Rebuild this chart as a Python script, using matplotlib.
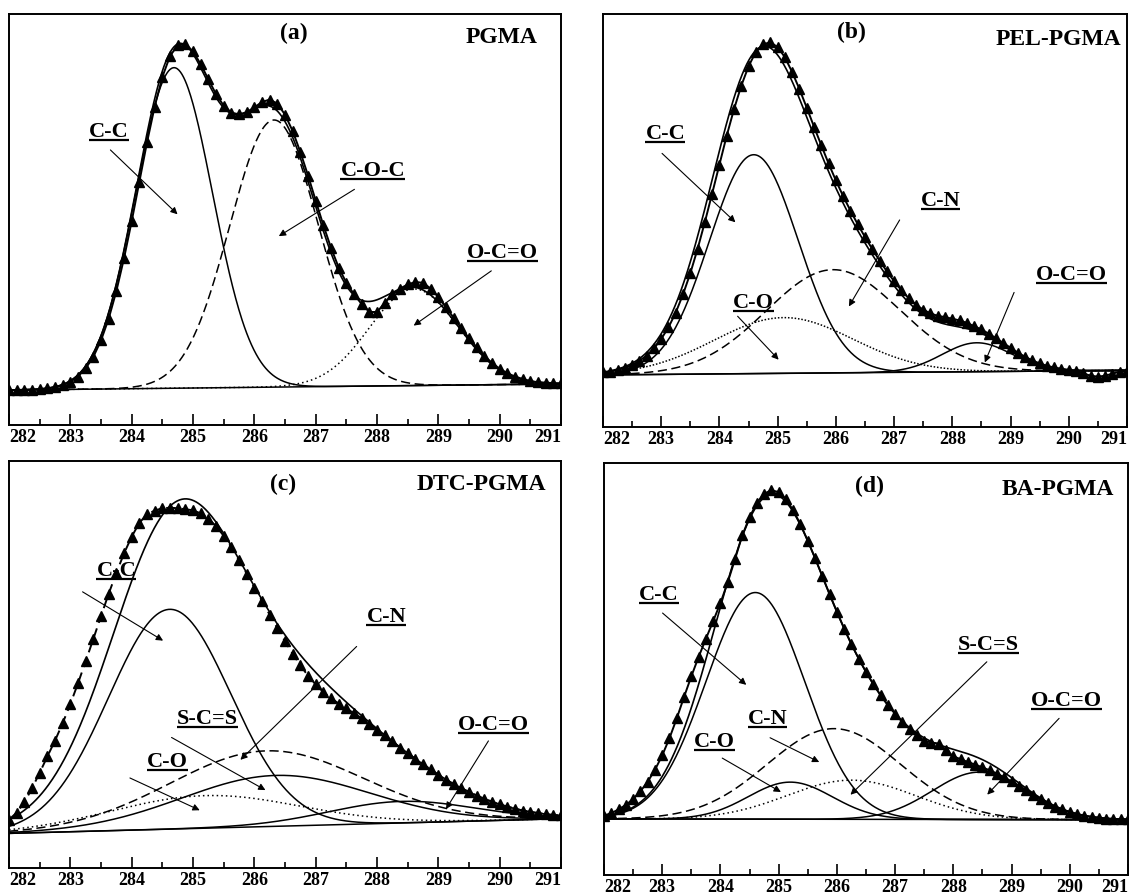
import numpy as np
import matplotlib.pyplot as plt

plt.rcParams['font.family'] = ['Liberation Serif', 'DejaVu Serif']
plt.rcParams['font.weight'] = 'bold'

# binding energy (eV) of the measured points, 0.125 eV step
binding = np.linspace(282.0, 291.0, 73)

# C1s fit components: centre (eV), height above background, FWHM (eV)
pgma_names = ['C-C', 'C-O-C', 'O-C=O']
pgma_center = [284.69, 286.32, 288.60]
pgma_height = [78.0, 65.0, 23.5]
pgma_fwhm = [1.48, 1.70, 1.70]
pgma_base = [8.5, 10.0]
pgma_counts = [8.5, 8.5, 8.6, 8.6, 8.7, 8.9, 9.2, 9.7, 10.5, 11.8,
               13.8, 16.6, 20.6, 25.9, 32.6, 40.6, 49.6, 59.2, 68.8, 77.5,
               84.7, 89.8, 92.4, 92.7, 90.9, 87.8, 84.1, 80.5, 77.7, 76.0,
               75.6, 76.1, 77.3, 78.6, 79.2, 78.2, 75.5, 71.5, 66.4, 60.7,
               54.6, 48.6, 43.1, 38.3, 34.6, 31.8, 29.4, 27.5, 27.5, 29.7,
               31.8, 33.2, 34.2, 34.8, 34.6, 33.2, 31.1, 28.6, 26.1, 23.6,
               21.1, 18.9, 16.8, 15.1, 13.7, 12.6, 11.8, 11.2, 10.7, 10.4,
               10.3, 10.2, 10.1]

pel_names = ['C-C', 'C-O', 'C-N', 'O-C=O']
pel_center = [284.59, 285.10, 285.95, 288.42]
pel_height = [53.0, 13.5, 25.0, 7.0]
pel_fwhm = [1.80, 2.80, 2.70, 1.40]
pel_base = [12.6, 13.7]
pel_counts = [13.2, 13.4, 13.8, 14.3, 15.0, 16.0, 17.3, 19.0, 21.3, 24.1,
              27.7, 32.1, 37.2, 43.1, 49.6, 56.5, 63.5, 70.5, 76.9, 82.6,
              87.3, 90.8, 92.7, 93.1, 92.0, 89.5, 85.9, 81.8, 77.3, 72.7,
              68.2, 63.8, 59.7, 55.9, 52.4, 49.1, 46.0, 43.1, 40.3, 37.7,
              35.3, 33.1, 31.2, 29.6, 28.4, 27.5, 26.9, 26.6, 26.2, 25.8,
              25.2, 24.4, 23.6, 22.6, 21.5, 20.3, 19.2, 18.0, 17.0, 16.1,
              15.4, 14.8, 14.4, 14.1, 13.8, 13.5, 13.0, 12.4, 12.2, 12.4,
              12.9, 13.4, 13.6]

dtc_names = ['C-C', 'C-O', 'S-C=S', 'C-N', 'O-C=O']
dtc_center = [284.62, 285.20, 286.35, 286.20, 288.40]
dtc_height = [54.0, 8.0, 12.5, 18.6, 5.3]
dtc_fwhm = [2.35, 3.60, 3.60, 3.70, 2.80]
dtc_base = [8.5, 12.1]
dtc_counts = [11.9, 13.6, 16.1, 19.6, 23.4, 27.4, 31.3, 35.6, 40.3, 45.4,
              50.8, 56.3, 61.9, 67.4, 72.5, 77.3, 81.4, 84.8, 86.9, 87.8,
              88.4, 88.5, 88.4, 88.1, 87.9, 87.1, 85.8, 84.0, 81.6, 78.8,
              75.6, 72.3, 68.9, 65.6, 62.2, 58.9, 55.7, 52.6, 49.8, 47.2,
              45.1, 43.2, 41.7, 40.4, 39.2, 38.0, 36.8, 35.4, 34.0, 32.6,
              31.1, 29.6, 28.2, 26.8, 25.5, 24.2, 22.9, 21.7, 20.6, 19.6,
              18.7, 17.8, 17.0, 16.3, 15.6, 15.1, 14.6, 14.1, 13.8, 13.5,
              13.2, 13.0, 12.9]

ba_names = ['C-C', 'C-O', 'C-N', 'S-C=S', 'O-C=O']
ba_center = [284.60, 285.20, 285.95, 286.25, 288.45]
ba_height = [55.0, 9.0, 22.0, 9.5, 11.5]
ba_fwhm = [2.00, 1.70, 2.70, 2.60, 1.90]
ba_base = [13.6, 13.4]
ba_counts = [14.4, 15.0, 15.9, 17.0, 18.4, 20.3, 22.6, 25.5, 29.0, 33.2,
             38.0, 43.2, 48.2, 52.9, 57.3, 61.6, 66.0, 71.0, 76.6, 82.4,
             86.8, 90.3, 92.5, 93.4, 92.9, 91.2, 88.5, 85.1, 81.1, 76.9,
             72.5, 68.1, 63.9, 59.8, 56.0, 52.5, 49.3, 46.3, 43.6, 41.2,
             39.1, 37.1, 35.4, 33.9, 32.6, 32.1, 31.9, 30.3, 28.8, 28.1,
             27.4, 26.8, 26.1, 25.4, 24.6, 23.7, 22.7, 21.7, 20.6, 19.5,
             18.5, 17.5, 16.6, 15.9, 15.3, 14.8, 14.4, 14.1, 13.9, 13.7,
             13.6, 13.5, 13.5]


def peak(x, c, h, w):
    return h * np.exp(-4 * np.log(2) * ((x - c) / w) ** 2)


def background(x, base):
    return base[0] + (base[1] - base[0]) * (x - 282.0) / 9.0


def envelope(x, centers, heights, widths, base):
    y = background(x, base)
    for c, h, w in zip(centers, heights, widths):
        y = y + peak(x, c, h, w)
    return y


fine = np.linspace(282.0, 291.0, 700)

fig = plt.figure(figsize=(11.3, 8.94), dpi=100)
boxes = [[0.008, 0.5246, 0.4885, 0.4597],
         [0.5336, 0.5224, 0.4637, 0.4620],
         [0.008, 0.0291, 0.4885, 0.4553],
         [0.5345, 0.0213, 0.4637, 0.4609]]

dash = (0, (6, 3))
dot = (0, (1, 2))
panels = [
    ('(a)', 'PGMA', pgma_names, pgma_center, pgma_height, pgma_fwhm, pgma_base, pgma_counts,
     ['-', dash, dot], '-'),
    ('(b)', 'PEL-PGMA', pel_names, pel_center, pel_height, pel_fwhm, pel_base, pel_counts,
     ['-', (0, (1, 1.2)), dash, '-'], '-'),
    ('(c)', 'DTC-PGMA', dtc_names, dtc_center, dtc_height, dtc_fwhm, dtc_base, dtc_counts,
     ['-', dot, '-', dash, '-'], (0, (5, 3))),
    ('(d)', 'BA-PGMA', ba_names, ba_center, ba_height, ba_fwhm, ba_base, ba_counts,
     ['-', '-', dash, dot, '-'], '-'),
]

# label centre, arrow tail, arrow head for every component
tags = [
    [((283.63, 71.4), (283.62, 67.4), (284.78, 50.8)),
     ((287.93, 61.7), (287.67, 57.7), (286.36, 45.6)),
     ((290.05, 41.9), (289.90, 37.9), (288.56, 23.8))],
    [((283.07, 70.9), (282.98, 66.7), (284.31, 49.1)),
     ((284.58, 30.0), (284.28, 27.3), (285.05, 15.8)),
     ((287.80, 54.8), (287.12, 50.7), (286.20, 28.6)),
     ((290.05, 36.8), (289.08, 33.2), (288.54, 15.0))],
    [((283.75, 73.0), (283.16, 68.2), (284.55, 55.5)),
     ((284.58, 26.1), (283.93, 22.4), (285.15, 13.9)),
     ((285.24, 36.7), (284.61, 32.4), (286.22, 18.8)),
     ((288.15, 61.6), (287.70, 54.9), (285.74, 26.1)),
     ((289.90, 35.1), (289.84, 31.8), (289.10, 13.9))],
    [((282.94, 68.0), (282.97, 64.0), (284.48, 45.7)),
     ((283.90, 32.2), (283.99, 28.7), (285.08, 19.8)),
     ((284.81, 37.9), (284.81, 33.6), (285.74, 27.1)),
     ((288.61, 55.9), (288.61, 52.2), (286.20, 19.0)),
     ((289.94, 42.1), (289.85, 38.5), (288.55, 19.0))],
]
letter_pos = [(286.65, 95.2), (286.26, 95.5), (286.46, 94.3), (286.56, 94.3)]
title_right = [(290.61, 94.4), (290.91, 93.8), (290.76, 94.3), (290.76, 93.5)]

labels = []
for k, (letter, title, names, cen, hei, fw, base, counts, styles, dstyle) in enumerate(panels):
    ax = fig.add_axes(boxes[k])
    bg = background(fine, base)
    for c, h, w, ls in zip(cen, hei, fw, styles):
        ax.plot(fine, bg + peak(fine, c, h, w), color='black', lw=1.1, ls=ls)
    ax.plot(fine, bg, color='black', lw=1.1)
    ax.plot(fine, envelope(fine, cen, hei, fw, base), color='black', lw=1.2)
    ax.plot(binding, counts, color='black', lw=1.4, ls=dstyle, marker='^', ms=7)

    ax.set_xlim(282, 291)
    ax.set_ylim(0, 100)
    ax.set_yticks([])
    ax.set_xticks(np.arange(282, 292))
    ax.set_xticks(np.arange(282.5, 291, 1.0), minor=True)
    ax.tick_params(axis='x', which='both', direction='in', top=False, labelsize=13, pad=3, width=1.2)
    ax.tick_params(axis='x', which='major', length=8)
    ax.tick_params(axis='x', which='minor', length=4)
    tl = ax.get_xticklabels()
    tl[0].set_ha('left')
    tl[-1].set_ha('right')
    for sp in ax.spines.values():
        sp.set_linewidth(1.4)

    ax.text(*letter_pos[k], letter, ha='center', va='center', fontsize=17, fontweight='bold')
    ax.text(*title_right[k], title, ha='right', va='center', fontsize=17, fontweight='bold')
    for name, (txt, tail, head) in zip(names, tags[k]):
        t = ax.text(*txt, name, ha='center', va='center', fontsize=16, fontweight='bold')
        labels.append((ax, t))
        ax.annotate('', xy=head, xytext=tail,
                    arrowprops=dict(arrowstyle='-|>', lw=0.8, color='black', mutation_scale=10))

# underline each component label
fig.canvas.draw()
renderer = fig.canvas.get_renderer()
for ax, t in labels:
    bb = t.get_window_extent(renderer).transformed(ax.transData.inverted())
    y = bb.y0 + 0.1 * (bb.y1 - bb.y0)
    ax.plot([bb.x0, bb.x1], [y, y], color='black', lw=1.6, solid_capstyle='butt')

fig.savefig('out.png', dpi=100)
